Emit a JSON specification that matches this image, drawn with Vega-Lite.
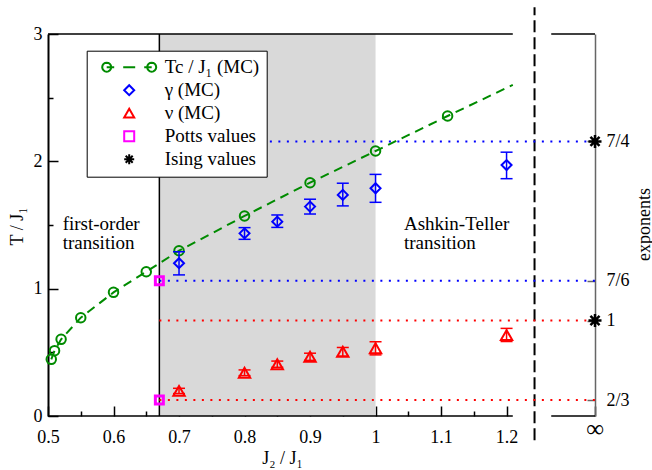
{
  "$schema": "https://vega.github.io/schema/vega-lite/v6.json",
  "width": 547,
  "height": 382,
  "autosize": {"type": "none"},
  "padding": {"left": 48, "top": 34, "right": 57, "bottom": 54},
  "background": "white",
  "config": {
    "view": {"stroke": null},
    "font": "Liberation Serif, DejaVu Serif, serif",
    "axis": {
      "labelFont": "Liberation Serif, DejaVu Serif, serif", "labelFontSize": 18, "labelColor": "black",
      "titleFont": "Liberation Serif, DejaVu Serif, serif", "titleFontSize": 18, "titleFontWeight": "normal", "titleColor": "black",
      "grid": false, "tickColor": "black", "tickWidth": 1.5, "domainColor": "black",
      "labelOverlap": false, "labelFlush": false, "labelBound": false, "zindex": 1
    },
    "legend": {"labelFont": "Liberation Serif, DejaVu Serif, serif", "labelFontSize": 19, "labelColor": "black", "labelLimit": 0},
    "text": {"font": "Liberation Serif, DejaVu Serif, serif"},
    "point": {"opacity": 1},
    "tick": {"opacity": 1}
  },
  "datasets": {
    "shade": [{"J": 0.67, "J2": 1.0, "T": 0, "T2": 3}],
    "boundary": [{"J": 0.67, "T": 0, "T2": 3}],
    "frame": [
      {"J": 0.5, "J2": 1.2095, "T": 0},
      {"J": 0.5, "J2": 1.2095, "T": 3},
      {"J": 1.2682, "J2": 1.335, "T": 0},
      {"J": 1.2682, "J2": 1.335, "T": 3}
    ],
    "axisBreak": [{"J": 1.2427, "T": -0.19, "T2": 3.21}],
    "tc": [
      {"J": 0.505, "T": 0.445, "kind": "MC", "series": "Tc / J₁ (MC)"},
      {"J": 0.51, "T": 0.513, "kind": "MC", "series": "Tc / J₁ (MC)"},
      {"J": 0.52, "T": 0.602, "kind": "MC", "series": "Tc / J₁ (MC)"},
      {"J": 0.55, "T": 0.772, "kind": "MC", "series": "Tc / J₁ (MC)"},
      {"J": 0.6, "T": 0.971, "kind": "MC", "series": "Tc / J₁ (MC)"},
      {"J": 0.65, "T": 1.133, "kind": "MC", "series": "Tc / J₁ (MC)"},
      {"J": 0.7, "T": 1.298, "kind": "MC", "series": "Tc / J₁ (MC)"},
      {"J": 0.8, "T": 1.571, "kind": "MC", "series": "Tc / J₁ (MC)"},
      {"J": 0.9, "T": 1.832, "kind": "MC", "series": "Tc / J₁ (MC)"},
      {"J": 1.0, "T": 2.081, "kind": "MC", "series": "Tc / J₁ (MC)"},
      {"J": 1.11, "T": 2.356, "kind": "MC", "series": "Tc / J₁ (MC)"},
      {"J": 1.2095, "T": 2.6, "kind": "extension", "series": "Tc / J₁ (MC)"}
    ],
    "notes": [
      {"J": 0.5224, "T": 1.46, "text": "first-order"},
      {"J": 0.5224, "T": 1.31, "text": "transition"},
      {"J": 1.0434, "T": 1.46, "text": "Ashkin-Teller"},
      {"J": 1.0434, "T": 1.31, "text": "transition"}
    ],
    "guides": [
      {"J": 0.67, "J2": 1.335, "e": 1.75, "series": "γ (MC)"},
      {"J": 0.67, "J2": 1.335, "e": 1.1666667, "series": "γ (MC)"},
      {"J": 0.67, "J2": 1.335, "e": 1.0, "series": "ν (MC)"},
      {"J": 0.67, "J2": 1.335, "e": 0.6666667, "series": "ν (MC)"}
    ],
    "exp": [
      {"J": 0.7, "e": 1.240, "lo": 1.191, "hi": 1.288, "series": "γ (MC)"},
      {"J": 0.8, "e": 1.365, "lo": 1.340, "hi": 1.389, "series": "γ (MC)"},
      {"J": 0.85, "e": 1.414, "lo": 1.390, "hi": 1.442, "series": "γ (MC)"},
      {"J": 0.9, "e": 1.477, "lo": 1.446, "hi": 1.508, "series": "γ (MC)"},
      {"J": 0.95, "e": 1.526, "lo": 1.480, "hi": 1.575, "series": "γ (MC)"},
      {"J": 1.0, "e": 1.554, "lo": 1.495, "hi": 1.612, "series": "γ (MC)"},
      {"J": 1.2, "e": 1.651, "lo": 1.594, "hi": 1.705, "series": "γ (MC)"},
      {"J": 0.7, "e": 0.705, "lo": 0.694, "hi": 0.716, "series": "ν (MC)"},
      {"J": 0.8, "e": 0.781, "lo": 0.769, "hi": 0.793, "series": "ν (MC)"},
      {"J": 0.85, "e": 0.817, "lo": 0.804, "hi": 0.830, "series": "ν (MC)"},
      {"J": 0.9, "e": 0.848, "lo": 0.833, "hi": 0.863, "series": "ν (MC)"},
      {"J": 0.95, "e": 0.869, "lo": 0.851, "hi": 0.887, "series": "ν (MC)"},
      {"J": 1.0, "e": 0.884, "lo": 0.856, "hi": 0.911, "series": "ν (MC)"},
      {"J": 1.2, "e": 0.939, "lo": 0.912, "hi": 0.967, "series": "ν (MC)"}
    ],
    "exact": [
      {"J": 0.67, "e": 1.1666667, "series": "Potts values"},
      {"J": 0.67, "e": 0.6666667, "series": "Potts values"},
      {"J": 1.335, "e": 1.75, "series": "Ising values"},
      {"J": 1.335, "e": 1.0, "series": "Ising values"}
    ]
  },
  "layer": [
    {
      "layer": [
        {
          "data": {"name": "shade"},
          "mark": {"type": "rect", "color": "#d9d9d9"},
          "encoding": {
            "x": {
              "field": "J", "type": "quantitative",
              "scale": {"domain": [0.5, 1.335], "nice": false, "zero": false},
              "axis": {
                "values": [0.5, 0.55, 0.6, 0.65, 0.7, 0.75, 0.8, 0.85, 0.9, 0.95, 1, 1.05, 1.1, 1.15, 1.2, 1.3345],
                "tickCount": 40,
                "labelExpr": "datum.value > 1.3 ? '∞' : datum.value == 1 ? '1' : indexof([0.5, 0.6, 0.7, 0.8, 0.9, 1.1, 1.2], datum.value) >= 0 ? format(datum.value, '.1f') : ''",
                "tickSize": {"condition": {"test": "datum.value > 1.3 || indexof([0.5, 0.6, 0.7, 0.8, 0.9, 1, 1.1, 1.2], datum.value) >= 0", "value": -10}, "value": -5},
                "labelFontSize": {"condition": {"test": "datum.value > 1.3", "value": 25}, "value": 18},
                "labelBaseline": {"condition": {"test": "datum.value > 1.3", "value": "middle"}, "value": "top"},
                "labelPadding": 22,
                "domain": false,
                "title": "J₂ / J₁",
                "titleX": 234, "titleY": 47, "titleBaseline": "alphabetic", "titleAlign": "center"
              }
            },
            "x2": {"field": "J2"},
            "y": {
              "field": "T", "type": "quantitative",
              "scale": {"domain": [0, 3], "nice": false, "zero": false},
              "axis": {
                "values": [0, 0.5, 1, 1.5, 2, 2.5, 3],
                "tickCount": 20,
                "labelExpr": "datum.value % 1 == 0 ? format(datum.value, 'd') : ''",
                "tickSize": {"condition": {"test": "datum.value % 1 == 0", "value": -10}, "value": -5},
                "labelPadding": 16,
                "domainWidth": 2,
                "title": "T / J₁",
                "titleX": -26, "titleY": 192, "titleAngle": 270, "titleBaseline": "alphabetic", "titleAlign": "center"
              }
            },
            "y2": {"field": "T2"}
          }
        },
        {
          "data": {"name": "boundary"},
          "mark": {"type": "rule", "color": "black", "strokeWidth": 1.5},
          "encoding": {
            "x": {"field": "J", "type": "quantitative"},
            "y": {"field": "T", "type": "quantitative"},
            "y2": {"field": "T2"}
          }
        },
        {
          "data": {"name": "frame"},
          "mark": {"type": "rule", "color": "black", "strokeWidth": 1.5},
          "encoding": {
            "x": {"field": "J", "type": "quantitative"},
            "x2": {"field": "J2"},
            "y": {"field": "T", "type": "quantitative"}
          }
        },
        {
          "data": {"name": "axisBreak"},
          "mark": {"type": "rule", "color": "black", "strokeWidth": 2, "strokeDash": [12, 5]},
          "encoding": {
            "x": {"field": "J", "type": "quantitative"},
            "y": {"field": "T", "type": "quantitative"},
            "y2": {"field": "T2"}
          }
        },
        {
          "data": {"name": "tc"},
          "mark": {"type": "line", "color": "#008b00", "strokeWidth": 2, "strokeDash": [9, 6]},
          "encoding": {
            "x": {"field": "J", "type": "quantitative"},
            "y": {"field": "T", "type": "quantitative"}
          }
        },
        {
          "data": {"name": "tc"},
          "transform": [{"filter": "datum.kind == 'MC'"}],
          "mark": {"type": "point", "shape": "circle", "filled": false, "size": 90, "strokeWidth": 2, "opacity": 1},
          "encoding": {
            "x": {"field": "J", "type": "quantitative"},
            "y": {"field": "T", "type": "quantitative"},
            "color": {
              "field": "series", "type": "nominal",
              "scale": {
                "domain": ["Tc / J₁ (MC)", "γ (MC)", "ν (MC)", "Potts values", "Ising values"],
                "range": ["#008b00", "#0000ff", "#ff0000", "#ff00ff", "#000000"]
              },
              "legend": {
                "orient": "none", "legendX": 38.7, "legendY": 16.7, "title": null,
                "fillColor": "white", "strokeColor": "black", "padding": 7,
                "symbolSize": 100, "symbolStrokeWidth": 2, "symbolOffset": 26, "labelOffset": 26, "rowPadding": 3,
                "symbolOpacity": 1,
                "encode": {
                  "symbols": {
                    "strokeWidth": {"condition": {"test": "datum.index == 3", "value": 3}, "value": 2}
                  },
                  "legend": {"strokeWidth": {"value": 1.5}}
                }
              }
            }
          }
        },
        {
          "data": {"name": "notes"},
          "mark": {"type": "text", "align": "left", "baseline": "alphabetic", "fontSize": 19, "font": "Liberation Serif, DejaVu Serif, serif", "color": "black"},
          "encoding": {
            "x": {"field": "J", "type": "quantitative"},
            "y": {"field": "T", "type": "quantitative"},
            "text": {"field": "text"}
          }
        }
      ]
    },
    {
      "layer": [
        {
          "data": {"name": "guides"},
          "mark": {"type": "rule", "strokeWidth": 2, "strokeDash": [2, 6.5]},
          "encoding": {
            "x": {"field": "J", "type": "quantitative"},
            "x2": {"field": "J2"},
            "y": {"field": "e", "type": "quantitative", "scale": {"domain": [0.6, 2.2], "nice": false, "zero": false}},
            "color": {"condition": {"test": "datum.series == 'γ (MC)'", "value": "#0000ff"}, "value": "#ff0000"}
          }
        },
        {
          "data": {"name": "exp"},
          "mark": {"type": "rule", "strokeWidth": 1.5},
          "encoding": {
            "x": {"field": "J", "type": "quantitative"},
            "y": {"field": "lo", "type": "quantitative"},
            "y2": {"field": "hi"},
            "color": {"condition": {"test": "datum.series == 'γ (MC)'", "value": "#0000ff"}, "value": "#ff0000"}
          }
        },
        {
          "data": {"name": "exp"},
          "transform": [{"fold": ["lo", "hi"], "as": ["end", "ev"]}],
          "mark": {"type": "tick", "orient": "horizontal", "size": 12, "thickness": 1.5, "opacity": 1},
          "encoding": {
            "x": {"field": "J", "type": "quantitative"},
            "y": {"field": "ev", "type": "quantitative"},
            "color": {"condition": {"test": "datum.series == 'γ (MC)'", "value": "#0000ff"}, "value": "#ff0000"}
          }
        },
        {
          "data": {"name": "exp"},
          "mark": {"type": "point", "filled": false, "strokeWidth": 2, "opacity": 1},
          "encoding": {
            "x": {"field": "J", "type": "quantitative"},
            "y": {
              "field": "e", "type": "quantitative",
              "scale": {"domain": [0.6, 2.2], "nice": false, "zero": false},
              "axis": {
                "orient": "right",
                "values": [0.6666667, 1, 1.1666667, 1.75],
                "labelExpr": "datum.value < 0.8 ? '2/3' : datum.value < 1.1 ? '1' : datum.value < 1.5 ? '7/6' : '7/4'",
                "tickSize": -8, "tickColor": "#666666", "domainColor": "#666666", "domainWidth": 1.5,
                "labelPadding": 19, "labelAlign": "left", "labelBaseline": "middle",
                "title": "exponents",
                "titleAngle": 270, "titleX": 54, "titleY": 190, "titleBaseline": "alphabetic", "titleAlign": "center"
              }
            },
            "color": {"field": "series", "type": "nominal"},
            "shape": {
              "field": "series", "type": "nominal",
              "scale": {
                "domain": ["Tc / J₁ (MC)", "γ (MC)", "ν (MC)", "Potts values", "Ising values"],
                "range": [
                  "M-3.6,0L-3.6685,0.3444L-3.8636,0.6364L-4.1556,0.8315L-4.5,0.9L-4.8444,0.8315L-5.1364,0.6364L-5.3315,0.3444L-5.4,0L-5.3315,-0.3444L-5.1364,-0.6364L-4.8444,-0.8315L-4.5,-0.9L-4.1556,-0.8315L-3.8636,-0.6364L-3.6685,-0.3444ZM5.4,0L5.3315,0.3444L5.1364,0.6364L4.8444,0.8315L4.5,0.9L4.1556,0.8315L3.8636,0.6364L3.6685,0.3444L3.6,0L3.6685,-0.3444L3.8636,-0.6364L4.1556,-0.8315L4.5,-0.9L4.8444,-0.8315L5.1364,-0.6364L5.3315,-0.3444ZM-4.5,0L-3,0M-1.2,0L1.2,0M3,0L4.5,0",
                  "diamond", "triangle-up", "square",
                  "M0,-1L0,1M-1,0L1,0M-0.7,-0.7L0.7,0.7M-0.7,0.7L0.7,-0.7"
                ]
              },
              "legend": {
                "orient": "none", "legendX": 38.7, "legendY": 16.7, "title": null,
                "fillColor": "white", "strokeColor": "black", "padding": 7,
                "symbolSize": 100, "symbolStrokeWidth": 2, "symbolOffset": 26, "labelOffset": 26, "rowPadding": 3,
                "symbolOpacity": 1,
                "encode": {
                  "symbols": {
                    "strokeWidth": {"condition": {"test": "datum.index == 3", "value": 3}, "value": 2}
                  },
                  "legend": {"strokeWidth": {"value": 1.5}}
                }
              }
            },
            "size": {"condition": {"test": "datum.series == 'ν (MC)'", "value": 130}, "value": 100}
          }
        },
        {
          "data": {"name": "exact"},
          "mark": {"type": "point", "filled": false, "opacity": 1},
          "encoding": {
            "x": {"field": "J", "type": "quantitative"},
            "y": {"field": "e", "type": "quantitative"},
            "color": {"field": "series", "type": "nominal"},
            "shape": {"field": "series", "type": "nominal"},
            "size": {"condition": {"test": "datum.series == 'Potts values'", "value": 64}, "value": 169},
            "strokeWidth": {"condition": {"test": "datum.series == 'Potts values'", "value": 3}, "value": 2.5}
          }
        }
      ]
    }
  ],
  "resolve": {"scale": {"y": "independent"}}
}
